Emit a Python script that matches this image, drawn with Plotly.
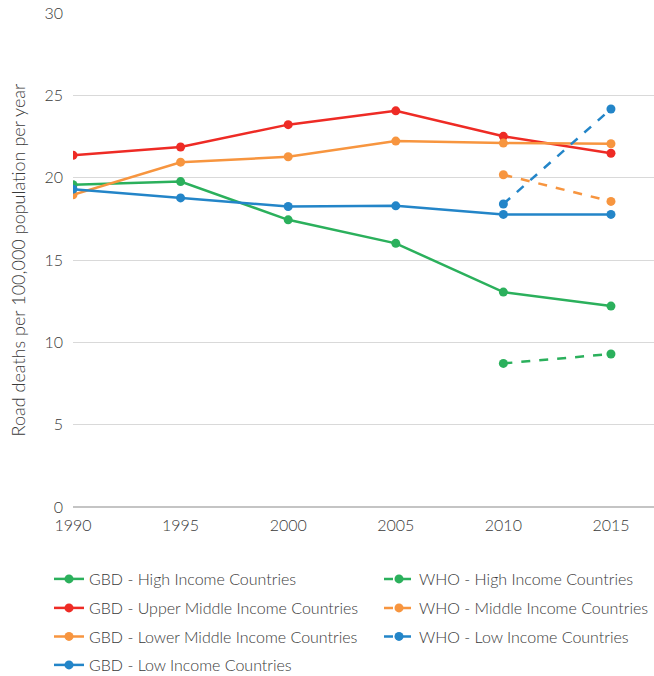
import plotly.graph_objects as go

years = [1990, 1995, 2000, 2005, 2010, 2015]
who_years = [2010, 2015]

gbd_high = [19.57, 19.76, 17.44, 16.01, 13.05, 12.2]
gbd_upper_mid = [21.36, 21.86, 23.22, 24.06, 22.51, 21.48]
gbd_lower_mid = [18.96, 20.94, 21.27, 22.22, 22.1, 22.06]
gbd_low = [19.3, 18.77, 18.25, 18.29, 17.77, 17.77]

who_high = [8.72, 9.29]
who_mid = [20.18, 18.56]
who_low = [18.4, 24.17]

GREEN = "#2bb05c"
RED = "#ee2b25"
ORANGE = "#f7953f"
BLUE = "#2385c8"

FONT = "Lato"
TXT = "#3a3a3a"

plot_left, plot_top, plot_bottom = 73, 13, 507
H = plot_bottom - plot_top
W = 654 - plot_left

col_x = [49, 379]
row_y = [579, 608, 636.5, 665]

fig = go.Figure()
legends = {}

def add(x, y, name, color, dash, idx, col, row):
    key = "legend" if idx == 1 else f"legend{idx}"
    fig.add_trace(go.Scatter(
        x=x, y=y, name=name, mode="lines+markers",
        line=dict(color=color, width=2.5, dash=dash),
        marker=dict(color=color, size=9),
        legend=key,
    ))
    legends[key] = dict(
        orientation="v", x=(col_x[col] - plot_left) / W, xanchor="left",
        y=(plot_bottom - row_y[row]) / H, yanchor="middle",
        font=dict(family=FONT, size=16, color=TXT, weight=300),
        bgcolor="rgba(0,0,0,0)", itemwidth=30,
    )

add(years, gbd_high, "GBD - High Income Countries", GREEN, "solid", 1, 0, 0)
add(who_years, who_high, "WHO - High Income Countries", GREEN, "dash", 2, 1, 0)
add(years, gbd_upper_mid, "GBD - Upper Middle Income Countries", RED, "solid", 3, 0, 1)
add(who_years, who_mid, "WHO - Middle Income Countries", ORANGE, "dash", 4, 1, 1)
add(years, gbd_lower_mid, "GBD - Lower Middle Income Countries", ORANGE, "solid", 5, 0, 2)
add(who_years, who_low, "WHO - Low Income Countries", BLUE, "dash", 6, 1, 2)
add(years, gbd_low, "GBD - Low Income Countries", BLUE, "solid", 7, 0, 3)

fig.update_layout(
    width=654, height=676,
    margin=dict(l=plot_left, r=0, t=plot_top, b=676 - plot_bottom, autoexpand=False),
    paper_bgcolor="white", plot_bgcolor="white",
    font=dict(family=FONT, color=TXT),
    showlegend=True,
    **legends,
    xaxis=dict(
        range=[1990, 2017], tickvals=years, showgrid=False, zeroline=False,
        showline=False, ticks="", automargin=False, ticklabelstandoff=7,
        tickfont=dict(family=FONT, size=16, color=TXT, weight=300),
    ),
    yaxis=dict(
        range=[0, 30], tickvals=[0, 5, 10, 15, 20, 25, 30],
        showgrid=True, gridcolor="#d9d9d9", gridwidth=1,
        zeroline=True, zerolinecolor="#c4c4c4", zerolinewidth=2,
        ticks="", ticklabelstandoff=9, automargin=False,
        tickfont=dict(family=FONT, size=16, color=TXT, weight=300),
        title=dict(text="Road deaths per 100,000 population per year",
                   font=dict(family=FONT, size=18, color=TXT, weight=300), standoff=14),
    ),
)

fig.write_html("out.html",
               config={"displayModeBar": False},
               post_script="document.body.style.margin='0';document.body.style.overflow='hidden';")
